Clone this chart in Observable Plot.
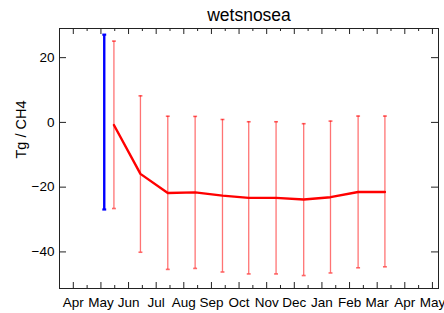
<!DOCTYPE html>
<html>
<head>
<meta charset="utf-8">
<script src="https://cdn.jsdelivr.net/npm/d3@7"></script>
<script src="https://cdn.jsdelivr.net/npm/@observablehq/plot@0.6"></script>
<style>
  html, body { margin: 0; padding: 0; background: #fff; }
  svg { display: block; }
</style>
</head>
<body>
<div id="chart"></div>
<script>
// ---- data ----
const title = "wetsnosea";
const yLabel = "Tg / CH4";
const months = ["Apr","May","Jun","Jul","Aug","Sep","Oct","Nov","Dec","Jan","Feb","Mar","Apr","May"];
const yTicks = [-40, -20, 0, 20];

// prior (blue)
const priorX = [1.12];
const priorLo = [-26.9];
const priorHi = [27.1];

// posterior (red)
const postX = [1.47, 2.43, 3.42, 4.41, 5.40, 6.35, 7.34, 8.34, 9.31, 10.31, 11.28];
const postMean = [-0.8, -15.9, -21.8, -21.6, -22.6, -23.3, -23.3, -23.8, -23.1, -21.5, -21.5];
const postLo = [-26.6, -40.1, -45.4, -45.1, -46.2, -46.8, -46.8, -47.3, -46.5, -44.9, -44.6];
const postHi = [25.1, 8.2, 1.9, 1.85, 0.9, 0.2, 0.2, -0.4, 0.4, 1.95, 1.95];

// ---- tables ----
const prior = priorX.map((x, i) => ({x, lo: priorLo[i], hi: priorHi[i]}));
const post = postX.map((x, i) => ({x, mean: postMean[i], lo: postLo[i], hi: postHi[i]}));
const majorX = months.map((m, i) => i);
const minorX = months.slice(0, -1).map((m, i) => i + 0.5);

const W = 444, H = 313;
const mT = 28, mB = 25, mL = 59, mR = 6;
const frameH = H - mT - mB;
const frameW = W - mL - mR;

const capSymbol = {
  draw(context, size) {
    const w = Math.sqrt(size) / 2;
    context.moveTo(-w, 0);
    context.lineTo(w, 0);
  }
};

const font = "'Liberation Sans', Arial, Helvetica, sans-serif";

const chart = Plot.plot({
  width: W,
  height: H,
  marginTop: mT,
  marginBottom: mB,
  marginLeft: mL,
  marginRight: mR,
  style: {fontFamily: font, background: "#fff", color: "#000"},
  x: {domain: [-0.5, 13.22], label: null},
  y: {domain: [-51.3, 29.0], label: null},
  marks: [
    // error bars (posterior)
    Plot.ruleX(post, {x: "x", y1: "lo", y2: "hi", stroke: "#ff0000", strokeOpacity: 0.55, strokeWidth: 1.3}),
    Plot.dot(post, {x: "x", y: "hi", symbol: capSymbol, r: 2.2, stroke: "#ff0000", strokeOpacity: 0.6, strokeWidth: 1.6}),
    Plot.dot(post, {x: "x", y: "lo", symbol: capSymbol, r: 2.2, stroke: "#ff0000", strokeOpacity: 0.6, strokeWidth: 1.6}),
    // prior bar
    Plot.ruleX(prior, {x: "x", y1: "lo", y2: "hi", stroke: "#0000ff", strokeWidth: 2.4}),
    Plot.dot(prior, {x: "x", y: "hi", symbol: capSymbol, r: 2.2, stroke: "#0000ff", strokeWidth: 2.2}),
    Plot.dot(prior, {x: "x", y: "lo", symbol: capSymbol, r: 2.2, stroke: "#0000ff", strokeWidth: 2.2}),
    // posterior mean line
    Plot.line(post, {x: "x", y: "mean", stroke: "#ff0000", strokeWidth: 2.4}),
    // frame
    Plot.frame({stroke: "#222", strokeWidth: 1}),
    // x ticks (inward, bottom and top)
    Plot.ruleX(majorX, {x: d => d, insetTop: frameH - 6, stroke: "#222"}),
    Plot.ruleX(majorX, {x: d => d, insetBottom: frameH - 6, stroke: "#222"}),
    Plot.ruleX(minorX, {x: d => d, insetTop: frameH - 3, stroke: "#222"}),
    Plot.ruleX(minorX, {x: d => d, insetBottom: frameH - 3, stroke: "#222"}),
    // y ticks (inward, left and right)
    Plot.ruleY(yTicks, {y: d => d, insetRight: frameW - 7, stroke: "#222"}),
    Plot.ruleY(yTicks, {y: d => d, insetLeft: frameW - 7, stroke: "#222"}),
    // axis labels
    Plot.axisX({ticks: majorX, tickFormat: i => months[i], tickSize: 0, tickPadding: 9, fontSize: 13.5, label: null}),
    Plot.axisY({ticks: yTicks, tickSize: 0, tickPadding: 5, fontSize: 13.5, label: null}),
    // y label
    Plot.text([yLabel], {text: d => d, frameAnchor: "left", dx: -38, rotate: -90, fontSize: 14.5, fill: "#000"}),
    // title
    Plot.text([title], {text: d => d, frameAnchor: "top", lineAnchor: "middle", dy: -13, fontSize: 17.5, fill: "#000"})
  ]
});

document.getElementById("chart").appendChild(chart);
</script>
</body>
</html>
